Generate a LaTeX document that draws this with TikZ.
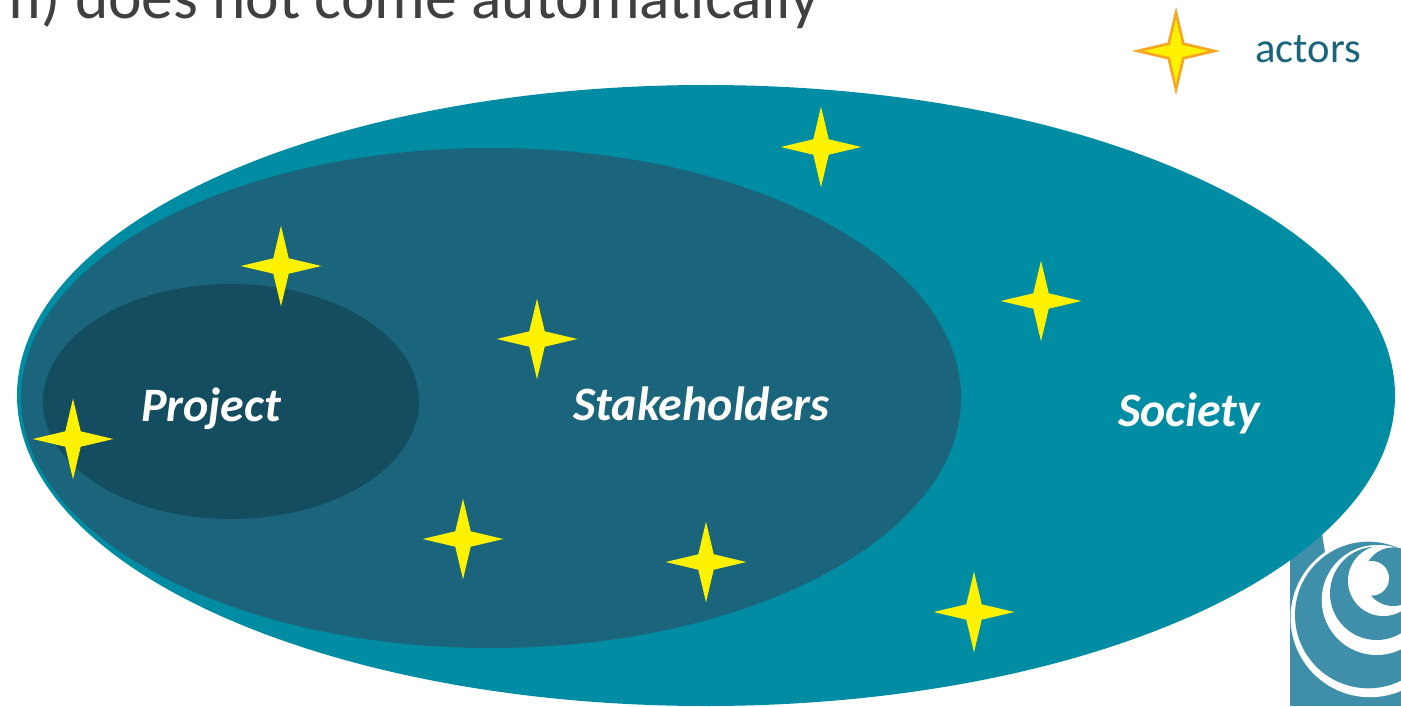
\documentclass[tikz,border=0pt]{standalone}
\usepackage{fontspec}
\setmainfont{Carlito}
\usetikzlibrary{shapes.geometric}

\definecolor{societyteal}{HTML}{008CA3}
\definecolor{stakeblue}{HTML}{1A657C}
\definecolor{projectblue}{HTML}{154D60}
\definecolor{logoblue}{HTML}{3F8FAA}
\definecolor{headgrey}{HTML}{404040}
\definecolor{staredge}{HTML}{F5A623}

\begin{document}
\begin{tikzpicture}[x=0.75pt,y=0.75pt,yscale=-1,xscale=1,
    actor/.style={star, star points=4, star point ratio=3.7, minimum size=60.5pt, inner sep=0pt, fill=yellow},
    zonelabel/.style={anchor=base, text=white, font=\fontsize{36}{36}\selectfont\bfseries\itshape}]

            \clip (0,0) rectangle (1401,706);

            % Heading, cut by the frame
            \node (heading) [anchor=base east, inner sep=0pt, text=headgrey, font=\fontsize{47.6}{47.6}\selectfont] at (820,18.5) {m) does not come automatically};

            % Logo, under the big ellipse
            \fill [logoblue] (1290,533) rectangle (1401,706);
            \fill [white] (1322,533) -- (1401,533) -- (1401,545) -- (1325,552) -- cycle;
            \fill [white] (1370,617.7) circle [radius=79.5];
            \fill [logoblue] (1368.3,615) circle [radius=73.3];
            \fill [white] (1376.7,600) circle [radius=55];
            \fill [logoblue] (1376.7,593.3) circle [radius=46.7];
            \fill [white] (1383.3,580.7) circle [radius=35.3];
            \fill [logoblue] (1393.3,576.7) circle [radius=29.3];
            \fill [white] (1371.7,578.3) circle [radius=17.3];

            % Ellipses
            \fill [societyteal] (706,395.5) ellipse (689 and 310.5);
            \fill [stakeblue] (491,398) ellipse (470 and 250);
            \fill [projectblue] (231,401.5) ellipse (188 and 117.5);

            % Zone labels
            \node (project) [zonelabel] at (211,421.5) {Project};
            \node (stakeholders) [zonelabel] at (701.5,420) {Stakeholders};
            \node (society) [zonelabel] at (1189,426) {Society};

            % Actors
            \node (actorA) [actor] at (821,147) {};
            \node (actorB) [actor] at (281,266) {};
            \node (actorC) [actor] at (1041,301) {};
            \node (actorD) [actor] at (537,339) {};
            \node (actorE) [actor] at (73,439) {};
            \node (actorF) [actor] at (463,539) {};
            \node (actorG) [actor] at (706,562) {};
            \node (actorH) [actor] at (974,612) {};

            % Legend
            \node (legendstar) [actor, draw=staredge, line width=2pt, minimum size=57.5pt] at (1176,51) {};
            \node (legendtext) [anchor=base west, inner sep=0pt, text=stakeblue, font=\fontsize{32}{32}\selectfont] at (1255,62.5) {actors};

\end{tikzpicture}
\end{document}
